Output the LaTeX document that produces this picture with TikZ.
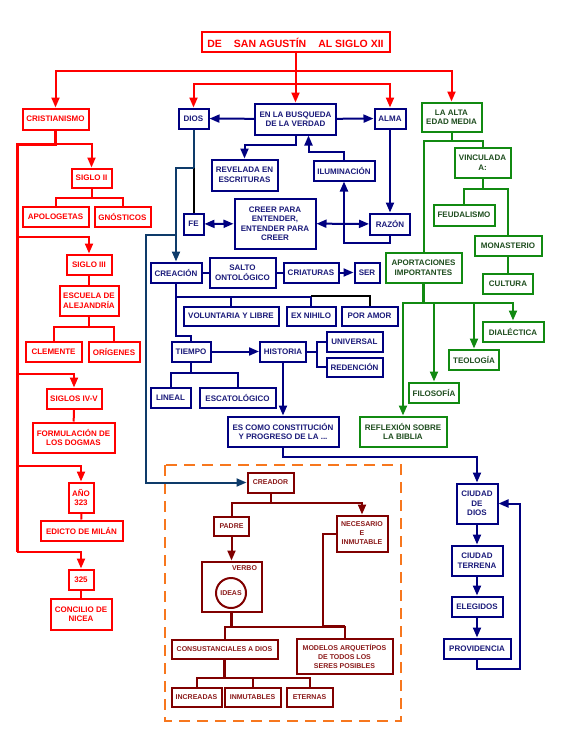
\documentclass[tikz,border=0pt]{standalone}
\usepackage{fontspec}
\setmainfont{Liberation Sans}
\usetikzlibrary{arrows.meta}
\definecolor{AGRed}{HTML}{FF0000}
\definecolor{AGNavy}{HTML}{000080}
\definecolor{AGNavyText}{HTML}{1A1A7A}
\definecolor{AGTeal}{HTML}{0E3B6A}
\definecolor{AGGreen}{HTML}{118A11}
\definecolor{AGGreenText}{HTML}{1E4D1E}
\definecolor{AGMaroon}{HTML}{800000}
\definecolor{AGMaroonText}{HTML}{8B1A1A}
\definecolor{AGOrange}{HTML}{F7771E}

\tikzset{
  box/.style={draw,fill=white,line width=2pt,inner sep=1pt,align=center,
    font=\fontsize{8}{9.5}\selectfont\bfseries},
  wh/.style 2 args={minimum width=#1pt,minimum height=#2pt},
  rbox/.style={box,draw=AGRed,text=AGRed},
  nbox/.style={box,draw=AGNavy,text=AGNavyText},
  gbox/.style={box,draw=AGGreen,text=AGGreenText},
  mbox/.style={box,draw=AGMaroon,text=AGMaroonText,font=\fontsize{7}{9}\selectfont\bfseries},
  rline/.style={draw=AGRed,line width=2pt},
  nline/.style={draw=AGNavy,line width=2pt},
  tline/.style={draw=AGTeal,line width=2pt},
  kline/.style={draw=black,line width=2pt},
  gline/.style={draw=AGGreen,line width=2pt},
  mline/.style={draw=AGMaroon,line width=2pt},
  rarrow/.style={rline,-{Triangle[length=10pt,width=8pt,fill=AGRed]}},
  narrow/.style={nline,-{Triangle[length=10pt,width=8pt,fill=AGNavy]}},
  tarrow/.style={tline,-{Triangle[length=10pt,width=8pt,fill=AGTeal]}},
  garrow/.style={gline,-{Triangle[length=10pt,width=8pt,fill=AGGreen]}},
  marrow/.style={mline,-{Triangle[length=10pt,width=8pt,fill=AGMaroon]}},
  nboth/.style={nline,{Triangle[length=10pt,width=8pt]}-{Triangle[length=10pt,width=8pt]}},
}

\begin{document}
\begin{tikzpicture}[x=1pt,y=-1pt]
  \useasboundingbox (0,0) rectangle (563,752);

  % title
  \node[rbox,wh={188}{20},font=\fontsize{10.5}{12}\selectfont\bfseries] (title) at (295.5,42.5)
    {DE\hspace{12pt}SAN AGUSTÍN\hspace{12pt}AL SIGLO XII};

  % left column: cristianismo
  \node[rbox,wh={66}{21}] (cris) at (55.5,119) {CRISTIANISMO};
  \node[rbox,wh={40}{19}] (s2) at (91.5,178) {SIGLO II};
  \node[rbox,wh={66}{20}] (apol) at (55.5,216.5) {APOLOGETAS};
  \node[rbox,wh={56}{20}] (gnos) at (122.5,216.5) {GNÓSTICOS};
  \node[rbox,wh={45}{20}] (s3) at (89,264.5) {SIGLO III};
  \node[rbox,wh={59}{30}] (escu) at (89,300.5) {ESCUELA DE\\ALEJANDRÍA};
  \node[rbox,wh={56}{20}] (clem) at (53.5,351.5) {CLEMENTE};
  \node[rbox,wh={51}{20}] (orig) at (114,351.5) {ORÍGENES};
  \node[rbox,wh={55}{20}] (s45) at (74,398.5) {SIGLOS IV-V};
  \node[rbox,wh={82}{30}] (form) at (73.5,437.5) {FORMULACIÓN DE\\LOS DOGMAS};
  \node[rbox,wh={25}{30}] (ano) at (81,497.5) {AÑO\\323};
  \node[rbox,wh={82}{20}] (edic) at (81.5,530.5) {EDICTO DE MILÁN};
  \node[rbox,wh={25}{20}] (c325) at (81,579.5) {325};
  \node[rbox,wh={61}{31}] (conc) at (81,614) {CONCILIO DE\\NICEA};
  \coordinate (trunk) at (17,144);
  \coordinate (trunkend) at (17,552);

  % centre: navy
  \node[nbox,wh={81}{31}] (busq) at (295.5,119) {EN LA BUSQUEDA\\DE LA VERDAD};
  \node[nbox,wh={30}{20}] (dios) at (193.5,118.5) {DIOS};
  \node[nbox,wh={31}{20}] (alma) at (390,118.5) {ALMA};
  \node[nbox,wh={66}{31}] (revel) at (244.5,175) {REVELADA EN\\ESCRITURAS};
  \node[nbox,wh={61}{20}] (ilum) at (344,170.5) {ILUMINACIÓN};
  \node[nbox,wh={20}{21}] (fe) at (193.5,224) {FE};
  \node[nbox,wh={81}{50}] (creer) at (275,223.5) {CREER PARA\\ENTENDER,\\ENTENDER PARA\\CREER};
  \node[nbox,wh={40}{21}] (razon) at (390,224) {RAZÓN};
  \node[nbox,wh={51}{20}] (crea) at (176,272.5) {CREACIÓN};
  \node[nbox,wh={66}{30}] (salto) at (242.5,272.5) {SALTO\\ONTOLÓGICO};
  \node[nbox,wh={55}{20}] (criat) at (311,272.5) {CRIATURAS};
  \node[nbox,wh={25}{20}] (ser) at (367,272.5) {SER};
  \node[nbox,wh={95}{19}] (volun) at (231,316) {VOLUNTARIA Y LIBRE};
  \node[nbox,wh={49}{19}] (exnih) at (311,316) {EX NIHILO};
  \node[nbox,wh={56}{19}] (amor) at (369.5,316) {POR AMOR};
  \node[nbox,wh={39}{20}] (tiempo) at (191,351.5) {TIEMPO};
  \node[nbox,wh={46}{20}] (hist) at (283,351.5) {HISTORIA};
  \node[nbox,wh={56}{20}] (univ) at (354.5,341.5) {UNIVERSAL};
  \node[nbox,wh={56}{19}] (reden) at (354.5,367) {REDENCIÓN};
  \node[nbox,wh={40}{20}] (lineal) at (170.5,397.5) {LINEAL};
  \node[nbox,wh={76}{20}] (escat) at (237.5,397.5) {ESCATOLÓGICO};
  \node[nbox,wh={111}{30}] (escomo) at (283,431.5) {ES COMO CONSTITUCIÓN\\Y PROGRESO DE LA ...};

  % right: ciudad de dios
  \node[nbox,wh={41}{40}] (cdd) at (477,503.5) {CIUDAD\\DE\\DIOS};
  \node[nbox,wh={51}{30}] (ct) at (477,560.5) {CIUDAD\\TERRENA};
  \node[nbox,wh={51}{20}] (eleg) at (477,606.5) {ELEGIDOS};
  \node[nbox,wh={67}{20}] (prov) at (477,648.5) {PROVIDENCIA};

  % right: green
  \node[gbox,wh={60}{29}] (alta) at (451.5,117) {LA ALTA\\EDAD MEDIA};
  \node[gbox,wh={56}{30}] (vinc) at (482.5,162.5) {VINCULADA\\A:};
  \node[gbox,wh={61}{21}] (feud) at (464,215) {FEUDALISMO};
  \node[gbox,wh={67}{20}] (monas) at (508,245.5) {MONASTERIO};
  \node[gbox,wh={50}{20}] (cult) at (508,283.5) {CULTURA};
  \node[gbox,wh={76}{30}] (aport) at (423.5,267.5) {APORTACIONES\\IMPORTANTES};
  \node[gbox,wh={61}{20}] (dial) at (513,331.5) {DIALÉCTICA};
  \node[gbox,wh={50}{20}] (teol) at (474,359.5) {TEOLOGÍA};
  \node[gbox,wh={50}{20}] (filo) at (434,392.5) {FILOSOFÍA};
  \node[gbox,wh={87}{30}] (refl) at (403,431.5) {REFLEXIÓN SOBRE\\LA BIBLIA};

  % bottom: dashed frame
  \draw[AGOrange,line width=2pt,dash pattern=on 11pt off 7pt] (165,465) rectangle (401,721);
  \node[mbox,wh={46}{20}] (creador) at (270.5,482.5) {CREADOR};
  \node[mbox,wh={35}{19}] (padre) at (231.5,526) {PADRE};
  \node[mbox,wh={51}{36}] (neces) at (362,533.5) {NECESARIO\\E\\INMUTABLE};
  \node[mbox,wh={60}{50}] (verbo) at (231.5,586.5) {};
  \node[text=AGMaroonText,font=\fontsize{7}{9}\selectfont\bfseries] (verbotxt) at (244.5,568) {VERBO};
  \node[mbox,circle,minimum size=30pt] (ideas) at (231,593) {IDEAS};
  \node[mbox,wh={106}{19}] (consus) at (224.5,649) {CONSUSTANCIALES A DIOS};
  \node[mbox,wh={96}{35}] (model) at (344.5,656) {MODELOS ARQUETÍPOS\\DE TODOS LOS\\SERES POSIBLES};
  \node[mbox,wh={50}{19}] (incr) at (196.5,697) {INCREADAS};
  \node[mbox,wh={56}{19}] (inmut) at (252.5,697) {INMUTABLES};
  \node[mbox,wh={46}{19}] (etern) at (309.5,697) {ETERNAS};

  % red connectors
  \draw[rarrow] (title.south) -- ++(0,18) -| (cris.north);
  \draw[rarrow] (title.south) -- ++(0,18) -| (alta.north);
  \draw[rarrow] (title.south) -- (busq.north);
  \draw[rarrow] (title.south) -- ++(0,30) -| (dios.north);
  \draw[rarrow] (title.south) -- ++(0,30) -| (alma.north);
  \draw[rline,line width=3pt] (cris.south) |- (trunk) -- (trunkend);
  \draw[rarrow] (trunk) -| (s2.north);
  \draw[rline] (s2.south) -- ++(0,9) -| (apol.north);
  \draw[rline] (s2.south) -- ++(0,9) -| (gnos.north);
  \draw[rarrow] (trunk |- s3.north) ++(0,-17) -| (s3.north);
  \draw[rline] (s3) -- (escu);
  \draw[rline] (escu.south) -- ++(0,10) -| (clem.north);
  \draw[rline] (escu.south) -- ++(0,10) -| (orig.north);
  \draw[rarrow] (trunk |- s45.north) ++(0,-14) -| (s45.north);
  \draw[rline] (s45) -- (form);
  \draw[rarrow] (trunk |- ano.north) ++(0,-16) -| (ano.north);
  \draw[rline] (ano) -- (edic);
  \draw[rarrow] (trunkend) -| (c325.north);
  \draw[rline] (c325) -- (conc);

  % navy connectors
  \draw[narrow] (busq) -- (dios);
  \draw[narrow] (busq) -- (alma);
  \draw[narrow] (busq.south) -- ++(0,9) -| (revel.north);
  \draw[narrow] (ilum.north) -- ++(0,-8) -| ([xshift=13pt]busq.south);
  \draw[narrow] (alma) -- (razon);
  \draw[tline] (dios.south) -- ++(0,38) coordinate (dj);
  \draw[kline] (dj) -- (fe.north);
  \draw[tarrow] (dj) -| (crea.north);
  \draw[tarrow] (crea.north) ++(0,-27) -- ++(-30,0) |- (creador.west);
  \draw[nboth] (fe) -- (creer);
  \draw[nboth] (creer) -- (razon);
  \fill[AGNavy] (ilum.south |- razon.west) circle (1.8pt);
  \draw[narrow] (razon.south) -- ++(0,7) -| (ilum.south);
  \draw[nline] (crea) -- (salto);
  \draw[nline] (salto) -- (criat);
  \draw[narrow] (criat) -- (ser);
  \draw[nline] (crea.south) -- ++(0,13) -| (volun.north);
  \draw[nline] (crea.south) -- ++(0,13) -| (exnih.north);
  \draw[kline] (exnih.north) ++(0,-10) -| (amor.north);
  \draw[nline] (crea.south) -- ++(0,52) -| (tiempo.north);
  \draw[narrow] (tiempo) -- (hist);
  \draw[nline] (tiempo.south) -- ++(0,10) -| (lineal.north);
  \draw[nline] (tiempo.south) -- ++(0,10) -| (escat.north);
  \draw[nline] (hist.east) -- ++(10,0) |- (univ.west);
  \draw[nline] (hist.east) -- ++(10,0) |- (reden.west);
  \draw[narrow] (hist) -- (escomo);
  \draw[narrow] (escomo.south) -- ++(0,9) -| (cdd.north);
  \draw[narrow] (cdd) -- (ct);
  \draw[narrow] (ct) -- (eleg);
  \draw[narrow] (eleg) -- (prov);
  \draw[narrow] (prov.south) -- ++(0,9) -| ([xshift=21pt]cdd.east) -- (cdd.east);

  % green connectors
  \draw[gline] (alta.south) -- ++(0,8) -| (vinc.north);
  \draw[gline] (alta.south) -- ++(0,8) -| (aport.north);
  \draw[gline] (vinc.south) -- ++(0,10) -| (feud.north);
  \draw[gline] (vinc.south) -- ++(0,10) -| (monas.north);
  \draw[gline] (monas) -- (cult);
  \draw[gline,line width=3pt] (aport.south) -- ++(0,19);
  \draw[garrow] (aport.south) -- ++(0,19) -| (refl.north);
  \draw[garrow] (aport.south) -- ++(0,19) -| (filo.north);
  \draw[garrow] (aport.south) -- ++(0,19) -| (teol.north);
  \draw[garrow] (aport.south) -- ++(0,19) -| (dial.north);

  % maroon connectors
  \draw[mline] (creador.south) -- ++(0,9) -| (padre.north);
  \draw[marrow] (creador.south) -- ++(0,9) -| (neces.north);
  \draw[marrow] (padre) -- (verbo);
  \draw[mline,line width=3pt] (verbo.south) -- ++(0,14);
  \draw[mline] (verbo.south) -- ++(0,14) -| (consus.north);
  \draw[mline] (verbo.south) -- ++(0,14) -| (model.north);
  \draw[mline] (neces.west) -- ++(-13,0) |- ([yshift=12pt]model.north);
  \draw[mline,line width=3pt] (consus.south) -- ++(0,18);
  \draw[mline] (consus.south) -- ++(0,18) -| (incr.north);
  \draw[mline] (consus.south) -- ++(0,18) -| (inmut.north);
  \draw[mline] (consus.south) -- ++(0,18) -| (etern.north);
\end{tikzpicture}
\end{document}
